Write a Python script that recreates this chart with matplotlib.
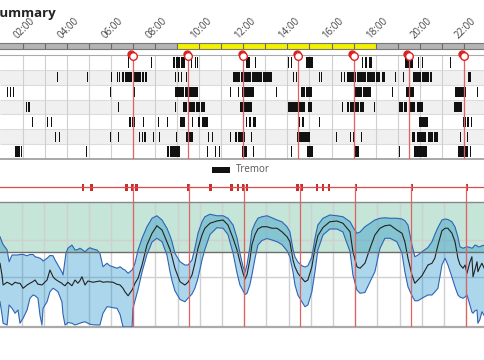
import matplotlib.pyplot as plt
from matplotlib.patches import Rectangle
from matplotlib.transforms import blended_transform_factory

plt.rcParams['font.family'] = ['Open Sans', 'DejaVu Sans']

# Time axis (hours of the day)
tick_hours = [2, 4, 6, 8, 10, 12, 14, 16, 18, 20, 22]
tick_labels = ['02:00', '04:00', '06:00', '08:00', '10:00', '12:00',
               '14:00', '16:00', '18:00', '20:00', '22:00']
grid_hours = list(range(2, 23))
day_start, day_end = 9, 18

# Medication times (red lines)
med_times = [7.0, 9.5, 12.0, 14.5, 17.0, 19.5, 22.0]

# Event markers on the red strip
event_times = [4.74, 5.14, 6.68, 6.95, 7.13, 9.51, 10.50, 11.41, 11.72, 11.95,
               12.13, 14.42, 14.60, 15.28, 15.55, 15.82, 17.04, 19.56, 22.04]

# Tremor episodes, one list per day row: (start, end) in hours
tremor_days = [
    [(6.78, 6.82), (7.82, 7.86), (8.81, 8.92), (8.96, 9.13), (9.17, 9.36), (9.49, 9.53),
     (9.63, 9.67), (9.81, 9.85), (9.90, 9.94), (12.12, 12.30), (12.53, 12.57),
     (14.03, 14.08), (14.16, 14.21), (14.84, 15.16), (17.38, 17.43), (17.52, 17.60),
     (17.70, 17.83), (19.33, 19.69), (19.92, 19.96), (20.10, 20.14), (21.37, 21.41)],
    [(3.56, 3.60), (4.92, 4.96), (6.01, 6.05), (6.28, 6.32), (6.38, 6.42), (6.50, 6.60),
     (6.66, 6.95), (7.00, 7.35), (7.40, 7.50), (7.55, 7.64), (8.91, 8.95), (9.04, 9.08),
     (9.20, 9.24), (9.40, 9.44), (11.53, 11.85), (11.90, 12.35), (12.40, 12.85),
     (12.90, 13.30), (14.25, 14.29), (14.39, 14.43), (15.43, 15.47), (15.53, 15.57),
     (16.43, 16.47), (16.57, 16.61), (16.70, 17.10), (17.14, 17.55), (17.60, 17.95),
     (18.00, 18.20), (18.30, 18.42), (18.87, 18.91), (19.24, 19.28), (19.69, 20.05),
     (20.10, 20.40), (20.45, 20.55), (22.18, 22.32)],
    [(1.29, 1.33), (1.43, 1.47), (1.57, 1.61), (5.96, 6.00), (7.05, 7.09), (8.91, 9.30),
     (9.34, 9.70), (9.74, 9.95), (11.40, 11.44), (11.76, 11.80), (11.94, 12.49),
     (13.48, 13.52), (14.62, 14.80), (14.84, 15.11), (17.06, 17.40), (17.44, 17.79),
     (18.74, 18.78), (19.37, 19.50), (19.55, 19.73), (21.59, 22.09), (22.59, 22.63)],
    [(2.15, 2.21), (2.25, 2.34), (6.32, 6.36), (7.00, 7.05), (8.91, 8.95), (9.27, 9.45),
     (9.50, 9.80), (9.85, 10.05), (10.10, 10.27), (11.85, 12.39), (14.03, 14.80),
     (14.93, 15.11), (16.47, 16.51), (16.70, 16.80), (16.85, 17.25), (17.30, 17.47),
     (17.92, 17.96), (19.06, 19.25), (19.30, 19.42), (19.52, 19.80), (19.85, 20.14),
     (21.55, 21.91)],
    [(2.43, 2.47), (3.11, 3.15), (3.29, 3.33), (6.82, 6.90), (6.98, 7.08), (7.46, 7.50),
     (8.14, 8.18), (8.54, 8.58), (9.13, 9.36), (9.68, 9.72), (9.95, 10.05), (10.12, 10.40),
     (12.12, 12.16), (12.26, 12.35), (12.45, 12.58), (14.52, 14.56), (14.68, 14.75),
     (15.43, 15.47), (19.96, 20.37), (21.95, 22.10), (22.15, 22.25), (22.30, 22.36)],
    [(3.47, 3.51), (3.65, 3.69), (5.96, 6.00), (6.32, 6.36), (7.00, 7.04), (7.28, 7.32),
     (7.40, 7.44), (7.52, 7.59), (7.91, 7.95), (8.18, 8.22), (8.95, 8.99), (9.40, 9.72),
     (10.40, 10.44), (10.58, 10.62), (11.40, 11.44), (11.63, 11.72), (11.78, 12.08),
     (12.35, 12.39), (14.43, 15.02), (16.20, 16.24), (16.84, 16.88), (16.98, 17.06),
     (17.33, 17.37), (19.64, 19.80), (19.85, 20.30), (20.35, 20.60), (20.65, 20.82),
     (21.82, 21.86), (22.14, 22.18)],
    [(1.66, 1.88), (1.92, 1.97), (4.87, 4.91), (8.54, 8.62), (8.67, 9.13), (9.49, 9.53),
     (10.36, 10.40), (10.72, 10.76), (10.90, 10.94), (11.94, 12.17), (12.44, 12.48),
     (14.16, 14.20), (14.89, 15.16), (17.06, 17.24), (18.40, 18.44), (19.06, 19.10),
     (19.73, 20.32), (21.73, 22.00), (22.05, 22.20), (22.28, 22.32)],
]

# Score curves: time, 75th percentile, median, 25th percentile
t = [1.00, 1.09, 1.14, 1.32, 1.41, 1.54, 1.68, 1.81, 1.90, 2.04,
     2.22, 2.35, 2.49, 2.58, 2.71, 2.80, 2.89, 2.94, 3.12, 3.25,
     3.39, 3.48, 3.61, 3.79, 3.84, 3.93, 3.97, 4.06, 4.24, 4.38,
     4.51, 4.60, 4.69, 4.83, 4.96, 5.05, 5.19, 5.37, 5.50, 5.64,
     5.82, 5.95, 6.09, 6.27, 6.41, 6.54, 6.63, 6.77, 6.95, 6.99,
     7.08, 7.22, 7.40, 7.62, 7.85, 8.07, 8.30, 8.52, 8.66, 8.75,
     8.88, 9.11, 9.33, 9.47, 9.65, 9.78, 9.92, 10.10, 10.23, 10.46,
     10.77, 11.05, 11.27, 11.50, 11.68, 11.81, 11.95, 12.04, 12.13, 12.26,
     12.35, 12.49, 12.62, 12.80, 13.03, 13.25, 13.48, 13.70, 13.93, 14.06,
     14.20, 14.29, 14.42, 14.60, 14.74, 14.87, 15.05, 15.19, 15.32, 15.55,
     15.86, 16.18, 16.45, 16.77, 16.90, 17.08, 17.22, 17.44, 17.67, 17.89,
     18.12, 18.34, 18.57, 18.88, 19.11, 19.24, 19.38, 19.56, 19.69, 19.83,
     20.01, 20.28, 20.46, 20.59, 20.73, 20.91, 21.05, 21.18, 21.36, 21.50,
     21.63, 21.72, 21.86, 21.95, 22.04, 22.17, 22.26, 22.31, 22.40, 22.49,
     22.53, 22.62, 22.71, 22.85]
upper = [36.1, 34.0, 33.0, 30.8, 26.1, 28.8, 28.8, 28.8, 29.0, 29.0,
         28.5, 29.0, 29.0, 28.1, 27.8, 27.5, 27.0, 26.4, 27.5, 28.6,
         28.5, 26.8, 24.8, 22.0, 20.8, 27.0, 29.5, 31.5, 32.8, 30.8,
         31.0, 31.5, 31.0, 30.1, 31.2, 31.7, 31.2, 30.8, 29.5, 24.1,
         25.5, 24.5, 24.1, 23.5, 24.1, 23.2, 22.8, 21.5, 22.8, 23.5,
         25.5, 30.8, 35.5, 40.1, 43.5, 44.5, 42.8, 39.5, 36.5, 34.1,
         29.5, 26.1, 24.8, 24.8, 26.8, 31.5, 37.5, 42.1, 44.1, 45.1,
         44.5, 44.5, 43.5, 40.8, 35.5, 29.5, 24.1, 22.0, 25.0, 32.0,
         38.5, 41.5, 43.5, 44.1, 44.5, 43.7, 42.8, 42.1, 40.1, 38.1,
         31.0, 28.0, 26.0, 24.5, 24.0, 24.5, 28.0, 35.5, 40.8, 43.5,
         44.8, 44.5, 44.1, 42.1, 40.0, 37.5, 38.0, 40.1, 41.5, 42.8,
         43.5, 43.7, 43.5, 43.5, 43.2, 42.5, 40.8, 32.8, 28.1, 28.8,
         30.1, 31.8, 34.1, 37.0, 39.8, 42.8, 43.2, 43.0, 42.1, 40.0,
         36.0, 32.1, 31.5, 31.8, 32.1, 31.8, 31.5, 31.8, 32.8, 32.5,
         32.1, 32.1, 32.5, 32.8]
median = [25.5, 20.8, 16.8, 17.9, 17.5, 16.8, 17.9, 17.5, 17.5, 15.5,
          16.8, 17.5, 18.2, 18.8, 17.1, 17.0, 16.8, 17.2, 18.8, 22.8,
          20.1, 19.2, 18.4, 17.5, 17.0, 16.5, 17.0, 17.9, 16.5, 18.8,
          17.5, 18.5, 20.1, 16.8, 18.4, 18.2, 17.9, 18.2, 18.4, 17.9,
          18.1, 18.0, 17.9, 17.1, 16.8, 15.5, 14.1, 12.5, 14.8, 15.5,
          17.5, 19.5, 24.8, 32.8, 37.5, 40.5, 38.8, 34.1, 31.0, 28.1,
          23.5, 18.1, 16.8, 17.9, 20.8, 25.5, 31.5, 36.8, 39.5, 41.5,
          42.4, 42.8, 40.8, 35.5, 30.8, 26.1, 21.5, 19.2, 21.0, 27.0,
          33.0, 37.0, 39.2, 40.1, 40.1, 39.5, 39.5, 38.1, 36.1, 34.1,
          26.8, 24.0, 21.5, 19.5, 18.1, 18.8, 24.1, 31.5, 36.5, 39.8,
          42.1, 42.4, 41.5, 38.1, 30.1, 24.1, 23.5, 25.5, 31.5, 36.8,
          39.5, 40.5, 40.8, 38.8, 37.5, 34.1, 27.5, 20.8, 17.5, 18.8,
          20.5, 24.8, 25.5, 27.5, 32.8, 38.5, 39.5, 39.5, 37.5, 34.1,
          27.5, 25.0, 23.5, 24.8, 21.5, 26.0, 28.1, 20.1, 23.0, 26.1,
          22.1, 24.0, 25.5, 22.8]
lower = [10.1, 5.0, 1.5, 0.8, 8.8, 7.5, 5.5, 6.8, 1.5, 3.5,
         6.8, 11.5, 12.8, 12.5, 11.5, 4.8, 0.8, 7.5, 10.1, 14.1,
         15.5, 15.0, 14.1, 10.1, 5.0, 0.8, 1.0, 1.8, 1.5, 0.8,
         1.2, 1.5, 1.8, 2.1, 1.5, 1.1, 0.9, 0.8, 0.8, 5.5,
         8.1, 8.0, 7.7, 7.5, 5.0, 0.1, 0.0, 0.0, 0.0, 7.5,
         10.5, 15.0, 22.0, 29.0, 34.0, 35.5, 34.1, 28.8, 22.1, 18.5,
         14.5, 11.0, 10.1, 11.5, 13.2, 15.5, 19.5, 26.8, 31.0, 37.0,
         39.7, 39.5, 37.0, 29.5, 21.5, 16.8, 14.5, 13.0, 13.5, 17.0,
         20.8, 27.5, 32.8, 34.6, 35.4, 34.8, 34.1, 33.0, 30.5, 28.0,
         22.0, 16.8, 12.8, 10.1, 8.1, 8.8, 14.1, 22.1, 30.8, 36.8,
         39.2, 39.2, 38.0, 30.1, 20.8, 14.8, 13.5, 13.8, 18.1, 22.1,
         31.5, 35.5, 35.5, 34.1, 29.5, 22.1, 16.1, 12.5, 10.5, 10.5,
         11.5, 12.8, 12.8, 14.0, 15.5, 24.8, 27.5, 24.8, 20.0, 16.0,
         12.8, 12.0, 11.5, 12.0, 12.8, 8.8, 6.0, 5.5, 6.5, 6.8,
         1.5, 3.0, 6.1, 4.0]
target_low, target_high = 30, 50
y_grid = [20, 35]

W, H = 485, 360
fig = plt.figure(figsize=(W / 100, H / 100), dpi=100)


def box(y_top, y_bot):
    return [0, 1 - y_bot / H, 1, (y_bot - y_top) / H]


x_top = (0.977, 22.953)
x_low = (1.0, 22.85)
red = '#e06262'

# Title (left edge is cut off like in the original)
fig.text(-8 / W, 1 - 17 / H, 'Summary', fontsize=9.5, fontweight='bold',
         color='#222222', ha='left', va='baseline')

# Day / night bar
ax_bar = fig.add_axes(box(43, 49))
ax_bar.set_xlim(x_top)
ax_bar.set_ylim(0, 1)
ax_bar.broken_barh([(x_top[0], day_start - x_top[0]), (day_end, x_top[1] - day_end)],
                   (0, 1), facecolor='#b4b4b4')
ax_bar.broken_barh([(day_start, day_end - day_start)], (0, 1), facecolor='#f2f200')
ax_bar.vlines(grid_hours, 0, 1, color='#6a6a6a', lw=0.8)
ax_bar.set_xticks([])
ax_bar.set_yticks([])
for s in ['left', 'right']:
    ax_bar.spines[s].set_visible(False)
for s in ['top', 'bottom']:
    ax_bar.spines[s].set_color('#777777')
    ax_bar.spines[s].set_linewidth(0.8)
trans = blended_transform_factory(ax_bar.transData, ax_bar.transAxes)
for h, lab in zip(tick_hours, tick_labels):
    ax_bar.text(h - 0.15, 1.3, lab, transform=trans, rotation=45, rotation_mode='anchor',
                ha='left', va='bottom', fontsize=7, color='#444444')

# Tremor raster
ax_tr = fig.add_axes(box(55, 159))
ax_tr.set_xlim(x_top)
ax_tr.set_ylim(len(tremor_days), 0)
for i in range(1, len(tremor_days), 2):
    ax_tr.axhspan(i, i + 1, color='#f0f0f0', lw=0, zorder=0)
ax_tr.hlines(range(1, len(tremor_days)), *x_top, color='#dcdcdc', lw=0.8, zorder=1)
ax_tr.vlines(grid_hours, 0, len(tremor_days), color='#cfcfcf', lw=0.8, zorder=1)
for i, row in enumerate(tremor_days):
    ax_tr.broken_barh([(s, e - s) for s, e in row], (i + 0.15, 0.7),
                      facecolor='#111111', lw=0, zorder=2)
ax_tr.vlines(med_times, 0, len(tremor_days), color=red, lw=0.9, zorder=3)
ax_tr.plot([m - 0.07 for m in med_times], [-0.05] * len(med_times), 'o', ms=5,
           color='#dd2222', clip_on=False, zorder=4)
ax_tr.plot(med_times, [0.07] * len(med_times), 'o', ms=5.5, mfc='white',
           mec='#dd2222', mew=1, clip_on=False, zorder=5)
ax_tr.set_xticks([])
ax_tr.set_yticks([])
for s in ['left', 'right']:
    ax_tr.spines[s].set_visible(False)
ax_tr.spines['top'].set_color('#aaaaaa')
ax_tr.spines['top'].set_linewidth(0.8)
ax_tr.spines['bottom'].set_color('#999999')
ax_tr.spines['bottom'].set_linewidth(1.2)

# Legend
fig.patches.append(Rectangle((212 / W, 1 - 173 / H), 18 / W, 6 / H,
                             transform=fig.transFigure, facecolor='#111111'))
fig.text(236 / W, 1 - 170 / H, 'Tremor', fontsize=7, color='#555555', va='center')

# Event strip
ax_ev = fig.add_axes(box(182, 202))
ax_ev.set_xlim(x_low)
ax_ev.set_ylim(0, 20)
ax_ev.axis('off')
ax_ev.axhline(15, color='#d94c4c', lw=0.9)
ax_ev.vlines(med_times, 0, 18, color=red, lw=0.9)
ax_ev.bar(event_times, 7, width=0.13, bottom=11.5, color='#cc2b2b')

# Score chart
ax = fig.add_axes(box(202, 327))
ax.set_xlim(x_low)
ax.set_ylim(0, 50)
ax.axhspan(target_low, target_high, color='#c4e5d7', lw=0, zorder=0)
ax.vlines(grid_hours, 0, 50, color='#d0d0d0', lw=1, zorder=1)
ax.hlines(y_grid, *x_low, color='#d0d0d0', lw=1, zorder=1)
ax.fill_between(t, lower, upper, color='#0a88c8', alpha=0.34, lw=0, zorder=2)
ax.plot(t, upper, color='#2f63b5', lw=0.8, zorder=3)
ax.plot(t, lower, color='#2f63b5', lw=0.8, zorder=3)
ax.plot(t, median, color='#222222', lw=0.8, zorder=4)
ax.axhline(target_low, color='#6d6d6d', lw=1, zorder=5)
ax.vlines(med_times, 0, 50, color=red, lw=0.9, zorder=5)
ax.set_xticks([])
ax.set_yticks([])
for s in ['left', 'right']:
    ax.spines[s].set_visible(False)
ax.spines['top'].set_color('#888888')
ax.spines['top'].set_linewidth(1)
ax.spines['bottom'].set_color('#aaaaaa')
ax.spines['bottom'].set_linewidth(1.6)

fig.savefig('out.png', dpi=100)
